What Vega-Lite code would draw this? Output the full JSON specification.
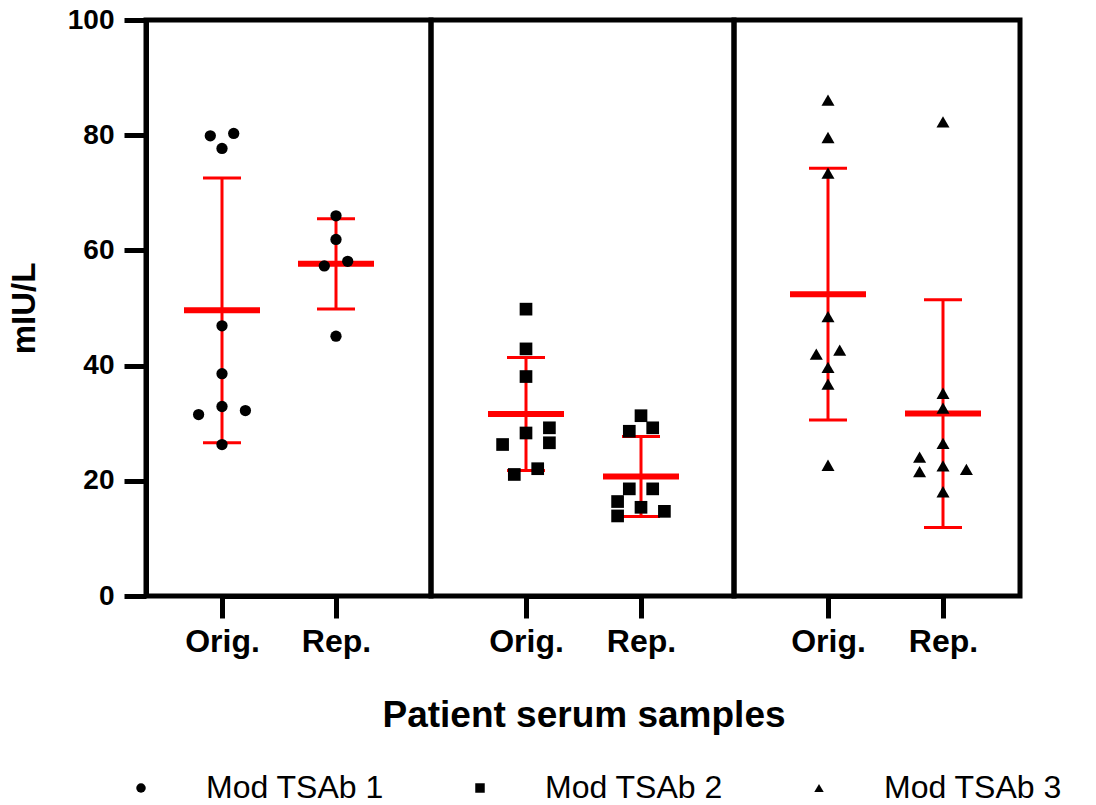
{
  "$schema": "https://vega.github.io/schema/vega-lite/v6.json",
  "padding": {"left": 5, "top": 3, "right": 5, "bottom": 5},
  "background": "white",
  "bounds": "flush",
  "data": {
    "values": [
      {"assay": "Mod TSAb 1", "sample": "Orig.", "value": 79.9, "lane": -1},
      {"assay": "Mod TSAb 1", "sample": "Orig.", "value": 80.3, "lane": 1},
      {"assay": "Mod TSAb 1", "sample": "Orig.", "value": 77.7, "lane": 0},
      {"assay": "Mod TSAb 1", "sample": "Orig.", "value": 46.9, "lane": 0},
      {"assay": "Mod TSAb 1", "sample": "Orig.", "value": 38.6, "lane": 0},
      {"assay": "Mod TSAb 1", "sample": "Orig.", "value": 32.9, "lane": 0},
      {"assay": "Mod TSAb 1", "sample": "Orig.", "value": 31.5, "lane": -2},
      {"assay": "Mod TSAb 1", "sample": "Orig.", "value": 32.2, "lane": 2},
      {"assay": "Mod TSAb 1", "sample": "Orig.", "value": 26.3, "lane": 0},
      {"assay": "Mod TSAb 1", "sample": "Rep.", "value": 66.0, "lane": 0},
      {"assay": "Mod TSAb 1", "sample": "Rep.", "value": 61.9, "lane": 0},
      {"assay": "Mod TSAb 1", "sample": "Rep.", "value": 57.3, "lane": -1},
      {"assay": "Mod TSAb 1", "sample": "Rep.", "value": 58.1, "lane": 1},
      {"assay": "Mod TSAb 1", "sample": "Rep.", "value": 45.1, "lane": 0},
      {"assay": "Mod TSAb 2", "sample": "Orig.", "value": 49.8, "lane": 0},
      {"assay": "Mod TSAb 2", "sample": "Orig.", "value": 42.9, "lane": 0},
      {"assay": "Mod TSAb 2", "sample": "Orig.", "value": 38.1, "lane": 0},
      {"assay": "Mod TSAb 2", "sample": "Orig.", "value": 28.3, "lane": 0},
      {"assay": "Mod TSAb 2", "sample": "Orig.", "value": 29.2, "lane": 2},
      {"assay": "Mod TSAb 2", "sample": "Orig.", "value": 26.6, "lane": 2},
      {"assay": "Mod TSAb 2", "sample": "Orig.", "value": 26.3, "lane": -2},
      {"assay": "Mod TSAb 2", "sample": "Orig.", "value": 22.1, "lane": 1},
      {"assay": "Mod TSAb 2", "sample": "Orig.", "value": 21.1, "lane": -1},
      {"assay": "Mod TSAb 2", "sample": "Rep.", "value": 31.3, "lane": 0},
      {"assay": "Mod TSAb 2", "sample": "Rep.", "value": 28.6, "lane": -1},
      {"assay": "Mod TSAb 2", "sample": "Rep.", "value": 29.2, "lane": 1},
      {"assay": "Mod TSAb 2", "sample": "Rep.", "value": 18.6, "lane": -1},
      {"assay": "Mod TSAb 2", "sample": "Rep.", "value": 18.6, "lane": 1},
      {"assay": "Mod TSAb 2", "sample": "Rep.", "value": 16.4, "lane": -2},
      {"assay": "Mod TSAb 2", "sample": "Rep.", "value": 15.4, "lane": 0},
      {"assay": "Mod TSAb 2", "sample": "Rep.", "value": 14.7, "lane": 2},
      {"assay": "Mod TSAb 2", "sample": "Rep.", "value": 13.9, "lane": -2},
      {"assay": "Mod TSAb 3", "sample": "Orig.", "value": 86.1, "lane": 0},
      {"assay": "Mod TSAb 3", "sample": "Orig.", "value": 79.6, "lane": 0},
      {"assay": "Mod TSAb 3", "sample": "Orig.", "value": 73.4, "lane": 0},
      {"assay": "Mod TSAb 3", "sample": "Orig.", "value": 48.5, "lane": 0},
      {"assay": "Mod TSAb 3", "sample": "Orig.", "value": 42.0, "lane": -1},
      {"assay": "Mod TSAb 3", "sample": "Orig.", "value": 42.7, "lane": 1},
      {"assay": "Mod TSAb 3", "sample": "Orig.", "value": 39.7, "lane": 0},
      {"assay": "Mod TSAb 3", "sample": "Orig.", "value": 36.8, "lane": 0},
      {"assay": "Mod TSAb 3", "sample": "Orig.", "value": 22.7, "lane": 0},
      {"assay": "Mod TSAb 3", "sample": "Rep.", "value": 82.3, "lane": 0},
      {"assay": "Mod TSAb 3", "sample": "Rep.", "value": 35.2, "lane": 0},
      {"assay": "Mod TSAb 3", "sample": "Rep.", "value": 32.6, "lane": 0},
      {"assay": "Mod TSAb 3", "sample": "Rep.", "value": 26.5, "lane": 0},
      {"assay": "Mod TSAb 3", "sample": "Rep.", "value": 24.1, "lane": -2},
      {"assay": "Mod TSAb 3", "sample": "Rep.", "value": 21.6, "lane": -2},
      {"assay": "Mod TSAb 3", "sample": "Rep.", "value": 22.6, "lane": 0},
      {"assay": "Mod TSAb 3", "sample": "Rep.", "value": 22.0, "lane": 2},
      {"assay": "Mod TSAb 3", "sample": "Rep.", "value": 18.1, "lane": 0}
    ]
  },
  "spacing": 0,
  "hconcat": [
    {
      "width": 285,
      "height": 576,
      "transform": [{"filter": "datum.assay === 'Mod TSAb 1'"}],
      "encoding": {
        "x": {"field": "sample", "type": "nominal", "title": null,
              "scale": {"type": "point", "domain": ["Orig.", "Rep."], "range": [76, 190], "padding": 0}},
        "y": {"field": "value", "type": "quantitative", "title": "mIU/L",
              "scale": {"domain": [0, 100]}, "axis": {"values": [0, 20, 40, 60, 80, 100]}}
      },
      "layer": [
        {"mark": {"type": "errorbar", "extent": "stdev", "color": "#ff0000",
                  "rule": {"strokeWidth": 3, "opacity": 1}, "ticks": {"size": 38, "thickness": 3, "opacity": 1}}},
        {"mark": {"type": "tick", "color": "#ff0000", "size": 76, "thickness": 6, "opacity": 1},
         "encoding": {"y": {"aggregate": "mean", "field": "value", "type": "quantitative", "title": "mIU/L"}}},
        {"mark": {"type": "point", "filled": true, "color": "black", "opacity": 1, "size": 127},
         "encoding": {
           "xOffset": {"field": "lane", "type": "quantitative", "scale": {"domain": [-2, 2], "range": [-23.4, 23.4]}},
           "shape": {"field": "assay", "type": "nominal",
                     "scale": {"domain": ["Mod TSAb 1", "Mod TSAb 2", "Mod TSAb 3"], "range": ["circle", "square", "triangle-up"]},
                     "legend": {"title": null, "orient": "none", "direction": "horizontal", "legendX": -21, "legendY": 752,
                                "labelFontSize": 32, "labelFont": "Liberation Sans", "labelFontWeight": "normal", "labelColor": "black",
                                "labelLimit": 400,
                                "symbolSize": 90, "symbolFillColor": "black", "symbolStrokeColor": "black", "symbolStrokeWidth": 0,
                                "labelOffset": 49, "columnPadding": 80}}
         }}
      ]
    },
    {
      "width": 303,
      "height": 576,
      "transform": [{"filter": "datum.assay === 'Mod TSAb 2'"}],
      "encoding": {
        "x": {"field": "sample", "type": "nominal", "title": "Patient serum samples",
              "scale": {"type": "point", "domain": ["Orig.", "Rep."], "range": [95, 210], "padding": 0}},
        "y": {"field": "value", "type": "quantitative", "scale": {"domain": [0, 100]}, "axis": null}
      },
      "layer": [
        {"mark": {"type": "errorbar", "extent": "stdev", "color": "#ff0000",
                  "rule": {"strokeWidth": 3, "opacity": 1}, "ticks": {"size": 38, "thickness": 3, "opacity": 1}}},
        {"mark": {"type": "tick", "color": "#ff0000", "size": 76, "thickness": 6, "opacity": 1},
         "encoding": {"y": {"aggregate": "mean", "field": "value", "type": "quantitative", "axis": null}}},
        {"mark": {"type": "point", "filled": true, "color": "black", "opacity": 1, "size": 161},
         "encoding": {
           "xOffset": {"field": "lane", "type": "quantitative", "scale": {"domain": [-2, 2], "range": [-23.4, 23.4]}},
           "shape": {"field": "assay", "type": "nominal",
                     "scale": {"domain": ["Mod TSAb 1", "Mod TSAb 2", "Mod TSAb 3"], "range": ["circle", "square", "triangle-up"]}}
         }}
      ]
    },
    {
      "width": 286,
      "height": 576,
      "transform": [{"filter": "datum.assay === 'Mod TSAb 3'"}],
      "encoding": {
        "x": {"field": "sample", "type": "nominal", "title": null,
              "scale": {"type": "point", "domain": ["Orig.", "Rep."], "range": [94, 209], "padding": 0}},
        "y": {"field": "value", "type": "quantitative", "scale": {"domain": [0, 100]}, "axis": null}
      },
      "layer": [
        {"mark": {"type": "errorbar", "extent": "stdev", "color": "#ff0000",
                  "rule": {"strokeWidth": 3, "opacity": 1}, "ticks": {"size": 38, "thickness": 3, "opacity": 1}}},
        {"mark": {"type": "tick", "color": "#ff0000", "size": 76, "thickness": 6, "opacity": 1},
         "encoding": {"y": {"aggregate": "mean", "field": "value", "type": "quantitative", "axis": null}}},
        {"mark": {"type": "point", "filled": true, "color": "black", "opacity": 1, "size": 170},
         "encoding": {
           "xOffset": {"field": "lane", "type": "quantitative", "scale": {"domain": [-2, 2], "range": [-23.4, 23.4]}},
           "shape": {"field": "assay", "type": "nominal",
                     "scale": {"domain": ["Mod TSAb 1", "Mod TSAb 2", "Mod TSAb 3"], "range": ["circle", "square", "triangle-up"]}}
         }}
      ]
    }
  ],
  "resolve": {"scale": {"x": "independent", "y": "independent", "xOffset": "independent", "shape": "shared"}, "legend": {"shape": "shared"}},
  "config": {
    "font": "Liberation Sans",
    "view": {"stroke": "black", "strokeWidth": 5},
    "axis": {
      "grid": false,
      "domainColor": "black", "domainWidth": 5,
      "tickColor": "black", "tickWidth": 5, "tickSize": 22,
      "labelFont": "Liberation Sans", "labelFontWeight": "bold", "labelColor": "black",
      "titleFont": "Liberation Sans", "titleFontWeight": "bold", "titleColor": "black"
    },
    "axisY": {"labelFontSize": 28, "labelPadding": 10, "titleFontSize": 33, "titlePadding": 26},
    "axisX": {"labelFontSize": 32, "labelAngle": 0, "labelPadding": 8, "titleFontSize": 37, "titlePadding": 40}
  }
}
